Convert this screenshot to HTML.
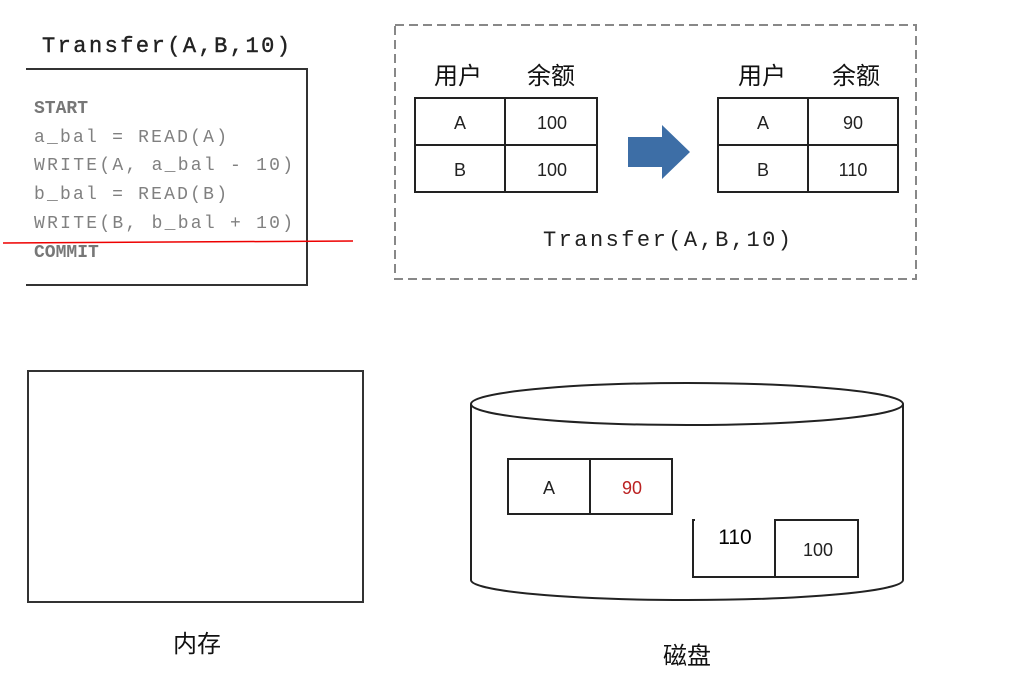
<!DOCTYPE html>
<html><head><meta charset="utf-8"><style>
html,body{margin:0;padding:0;background:#fff;width:1030px;height:684px;overflow:hidden}
svg{display:block}
.m{font-family:"Liberation Mono","DejaVu Sans Mono",monospace}
.s{font-family:"Liberation Sans","Noto Sans CJK SC",sans-serif}
</style></head><body>
<svg width="1030" height="684" viewBox="0 0 1030 684" xmlns="http://www.w3.org/2000/svg">
<!-- code box -->
<text x="42" y="52" class="m" font-size="22" fill="#222" stroke="#222" stroke-width="0.4" textLength="248">Transfer(A,B,10)</text>
<polyline points="26,69 307,69 307,285 26,285" fill="none" stroke="#333" stroke-width="2"/>
<g class="m" font-size="18" fill="#808080">
<text x="34" y="113" font-weight="bold" fill="#777">START</text>
<text x="34" y="142" textLength="193">a_bal = READ(A)</text>
<text x="34" y="170" textLength="259">WRITE(A, a_bal - 10)</text>
<text x="34" y="199" textLength="193">b_bal = READ(B)</text>
<text x="34" y="228" textLength="259">WRITE(B, b_bal + 10)</text>
<text x="34" y="257" font-weight="bold" fill="#777">COMMIT</text>
</g>
<line x1="3" y1="243" x2="353" y2="241" stroke="#e00" stroke-width="1.5"/>
<!-- dashed box -->
<rect x="395" y="25" width="521" height="254" fill="none" stroke="#888" stroke-width="2" stroke-dasharray="9,5"/>
<g class="s" font-size="24" fill="#111">
<text x="458" y="84" text-anchor="middle">用户</text>
<text x="551" y="84" text-anchor="middle">余额</text>
<text x="762" y="84" text-anchor="middle">用户</text>
<text x="856" y="84" text-anchor="middle">余额</text>
</g>
<g fill="none" stroke="#222" stroke-width="2">
<rect x="415" y="98" width="182" height="94"/><line x1="505" y1="98" x2="505" y2="192"/><line x1="415" y1="145" x2="597" y2="145"/>
<rect x="718" y="98" width="180" height="94"/><line x1="808" y1="98" x2="808" y2="192"/><line x1="718" y1="145" x2="898" y2="145"/>
</g>
<g class="s" font-size="18" fill="#222" text-anchor="middle">
<text x="460" y="129">A</text><text x="552" y="129">100</text>
<text x="460" y="176">B</text><text x="552" y="176">100</text>
<text x="763" y="129">A</text><text x="853" y="129">90</text>
<text x="763" y="176">B</text><text x="853" y="176">110</text>
</g>
<polygon points="628,137 662,137 662,125 690,152 662,179 662,167 628,167" fill="#3d6ea6"/>
<text x="667" y="246" class="m" font-size="22" fill="#222" text-anchor="middle" textLength="248">Transfer(A,B,10)</text>
<!-- memory -->
<rect x="28" y="371" width="335" height="231" fill="none" stroke="#333" stroke-width="2"/>
<text x="197" y="652" class="s" font-size="24" fill="#111" text-anchor="middle">内存</text>
<!-- disk -->
<path d="M471,404 L471,580 A216,20 0 0 0 903,580 L903,404" fill="none" stroke="#222" stroke-width="2"/>
<ellipse cx="687" cy="404" rx="216" ry="21" fill="#fff" stroke="#222" stroke-width="2"/>
<text x="687" y="664" class="s" font-size="24" fill="#111" text-anchor="middle">磁盘</text>
<g fill="none" stroke="#222" stroke-width="2">
<rect x="508" y="459" width="164" height="55"/><line x1="590" y1="459" x2="590" y2="514"/>
<rect x="775" y="520" width="83" height="57"/>
<polyline points="695,520 693,520 693,577 775,577"/>
</g>
<g class="s" font-size="18" text-anchor="middle">
<text x="549" y="494" fill="#222">A</text>
<text x="632" y="494" fill="#b22">90</text>
<text x="818" y="556" fill="#222">100</text>
<text x="735" y="544" fill="#000" font-size="21">110</text>
</g>
</svg>
</body></html>
